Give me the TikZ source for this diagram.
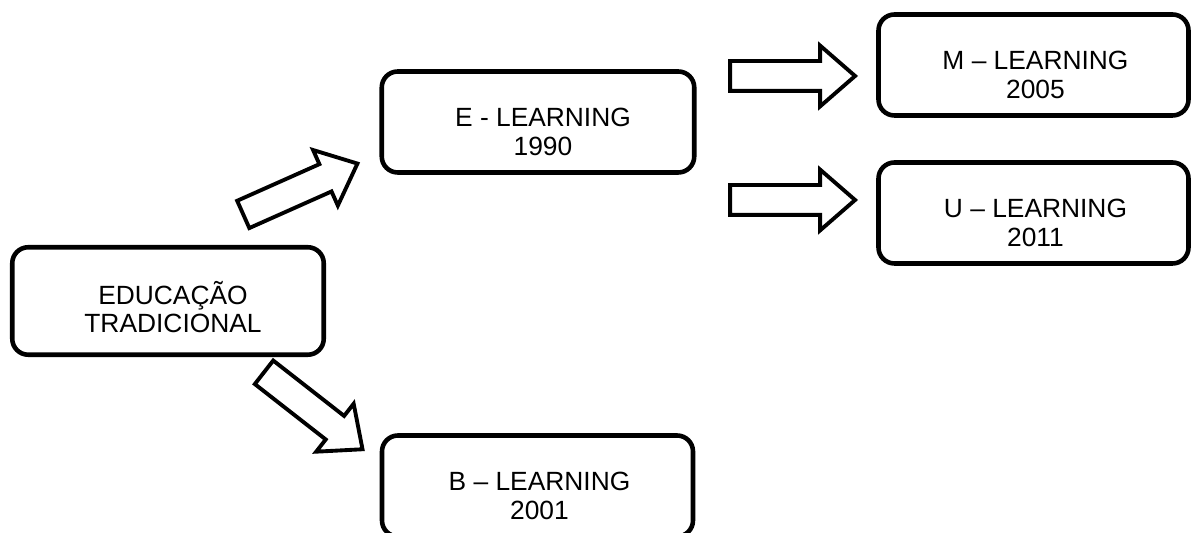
\documentclass[tikz,border=0pt]{standalone}
\usepackage{fontspec}
\setmainfont{Liberation Sans}
\usetikzlibrary{shapes.arrows, positioning}

\begin{document}
\begin{tikzpicture}[
  box/.style={draw, line width=2.6pt, rounded corners=0.32cm,
    minimum width=6.2cm, minimum height=2.02cm, inner sep=0pt},
  boxtext/.style={align=center, font=\fontsize{15}{16.2}\selectfont},
  blockarrow/.style={draw, fill=white, line width=2.2pt, single arrow,
    inner sep=0pt, text height=0.52cm, text depth=0pt, minimum height=2.5cm,
    single arrow head extend=0.31cm, single arrow tip angle=82}
]
  \useasboundingbox (0,0) rectangle (23.86,10.66);
  % boxes
  \node[box, minimum width=6.23cm, minimum height=2.15cm] (edu) at (3.36,4.64) {};
  \node[box, minimum width=6.25cm] (elearn) at (10.76,8.22) {};
  \node[box] (mlearn) at (20.67,9.36) {};
  \node[box] (ulearn) at (20.67,6.40) {};
  \node[box, minimum width=6.22cm] (blearn) at (10.75,0.94) {};
  % texts
  \node[boxtext] (eduT) at ([xshift=0.1cm,yshift=-0.12cm]edu.center) {EDUCAÇÃO\\TRADICIONAL};
  \node[boxtext] (elearnT) at ([xshift=0.1cm,yshift=-0.2cm]elearn.center) {E - LEARNING\\1990};
  \node[boxtext] (mlearnT) at ([xshift=0.04cm,yshift=-0.2cm]mlearn.center) {M – LEARNING\\2005};
  \node[boxtext] (ulearnT) at ([xshift=0.04cm,yshift=-0.2cm]ulearn.center) {U – LEARNING\\2011};
  \node[boxtext] (blearnT) at ([xshift=0.04cm,yshift=-0.2cm]blearn.center) {B – LEARNING\\2001};
  % arrows
  \node[blockarrow, rotate=24] (arrE) at (5.85,6.81) {};
  \node[blockarrow, rotate=-38] (arrB) at (6.13,2.55) {};
  \node[blockarrow] (arrM) at (15.68,9.14) {};
  \node[blockarrow] (arrU) at (15.68,6.66) {};
\end{tikzpicture}
\end{document}
